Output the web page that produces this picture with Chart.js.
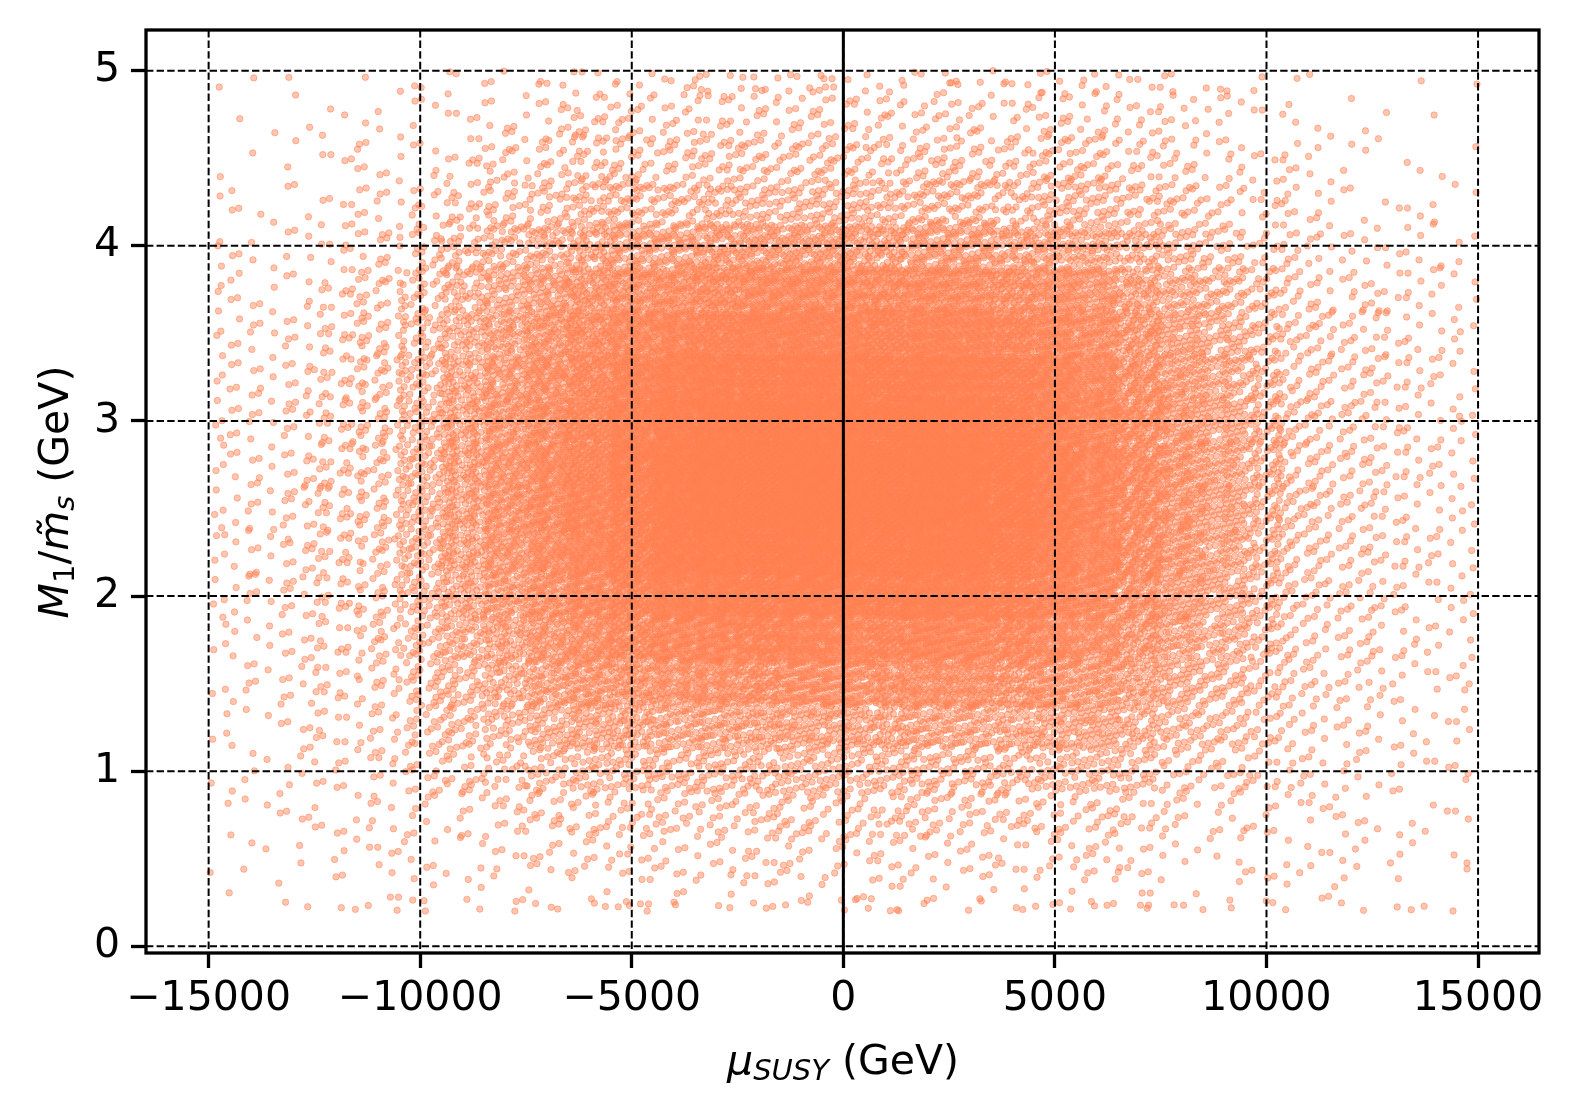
<!DOCTYPE html>
<html>
<head>
<meta charset="utf-8">
<script src="https://cdn.jsdelivr.net/npm/chart.js@4.4.1/dist/chart.umd.min.js"></script>
<style>
  html, body { margin: 0; padding: 0; background: #fff; }
  #grafico { display: block; }
</style>
</head>
<body>
<canvas id="grafico" width="1574" height="1113" style="width:1574px;height:1113px"></canvas>
<script>
// ------------- DATA
// the cloud is given as point counts per cell (1000 GeV wide, 0.25 tall)
const xEdges = [-15000, -14000, -13000, -12000, -11000, -10000, -9000, -8000, -7000, -6000,
  -5000, -4000, -3000, -2000, -1000, 0, 1000, 2000, 3000, 4000, 5000,
  6000, 7000, 8000, 9000, 10000, 11000, 12000, 13000, 14000, 15000];
const yEdges = [0.2, 0.25, 0.5, 0.75, 1.0, 1.25, 1.5, 1.75, 2.0, 2.25, 2.5,
  2.75, 3.0, 3.25, 3.5, 3.75, 4.0, 4.25, 4.5, 4.75, 5.0];

// which vertical band each column belongs to: o = |mu|>10000, m = 5000..10000, i = |mu|<5000
const colZone = ['o', 'o', 'o', 'o', 'o', 'm', 'm', 'm', 'm', 'm',
  'i', 'i', 'i', 'i', 'i', 'i', 'i', 'i', 'i', 'i',
  'm', 'm', 'm', 'm', 'm', 'o', 'o', 'o', 'o', 'o'];
// points per cell of each column in the row 2.5..2.75
const colPeak = [8, 10, 14, 20, 28, 65, 88, 115, 150, 185,
  240, 265, 285, 290, 280, 280, 285, 275, 260, 235,
  180, 145, 110, 80, 60, 26, 19, 14, 10, 8];

// share of that peak in every row, bottom row (0.2) to top row (5.0)
const outerRows = [0.05, 0.2, 0.3, 0.38, 0.5, 0.6, 0.7, 0.8, 0.9, 0.97,
  1.0, 0.97, 0.92, 0.85, 0.75, 0.62, 0.4, 0.28, 0.18, 0.1];
const midRows = [0.01, 0.05, 0.08, 0.14, 0.3, 0.45, 0.6, 0.75, 0.88, 0.97,
  1.0, 0.97, 0.9, 0.78, 0.65, 0.48, 0.28, 0.16, 0.1, 0.06];
const innerRows = [0.005, 0.025, 0.045, 0.09, 0.17, 0.3, 0.48, 0.66, 0.84, 0.95,
  1.0, 0.96, 0.87, 0.72, 0.54, 0.38, 0.17, 0.1, 0.06, 0.035];

const xTicks = [-15000, -10000, -5000, 0, 5000, 10000, 15000];
const yTicks = [0, 1, 2, 3, 4, 5];

// ------------- SPREAD THE COUNTS OVER EACH CELL (even R2 sequence, no randomness)
// each cell's points cover a window twice the cell size, so neighbours blend evenly
const SPREAD = 2;

function reflect(v, lo, hi) {
  if (v < lo) return lo + (lo - v);
  if (v > hi) return hi - (v - hi);
  return v;
}

function buildPoints() {
  const pts = [];
  const xLo = xEdges[0], xHi = xEdges[xEdges.length - 1];
  const yLo = yEdges[0], yHi = yEdges[yEdges.length - 1];
  let resto = 0;
  for (let c = 0; c < colPeak.length; c++) {
    const perfil = colZone[c] === 'i' ? innerRows : (colZone[c] === 'm' ? midRows : outerRows);
    for (let r = 0; r < perfil.length; r++) {
      resto += perfil[r] * colPeak[c];
      const n = Math.floor(resto);
      resto -= n;
      const xc = (xEdges[c] + xEdges[c + 1]) / 2, w = xEdges[c + 1] - xEdges[c];
      const yc = (yEdges[r] + yEdges[r + 1]) / 2, h = yEdges[r + 1] - yEdges[r];
      const s = ((c * 31 + r * 17) * 0.6180339887) % 1;
      for (let k = 0; k < n; k++) {
        const u = (s + 0.5 + k * 0.7548776662) % 1;
        const v = (s * 1.7 + 0.5 + k * 0.5698402910) % 1;
        pts.push({
          x: reflect(xc + (u - 0.5) * w * SPREAD, xLo, xHi),
          y: reflect(yc + (v - 0.5) * h * SPREAD, yLo, yHi)
        });
      }
    }
  }
  return pts;
}

function fmtTick(v) {
  return v < 0 ? '\u2212' + Math.abs(v) : String(v);
}

// text with sub-scripts, centred on cx, baseline at y
function textoCompuesto(ctx, partes, cx, y) {
  let total = 0;
  partes.forEach(p => { ctx.font = p.font; p.w = ctx.measureText(p.t).width; total += p.w; });
  let x = cx - total / 2;
  partes.forEach(p => {
    ctx.font = p.font;
    ctx.fillText(p.t, x, y + (p.dy || 0));
    x += p.w;
  });
}

const FAM = '"DejaVu Sans"';
const big = '41px ' + FAM, bigIt = 'italic 41px ' + FAM;
const sub = '29px ' + FAM, subIt = 'italic 29px ' + FAM;

// ------------- GRID, ZERO LINE, FRAME AND AXIS TITLES ON TOP OF THE POINTS
const capas = {
  id: 'capas',
  afterDatasetsDraw(chart) {
    const ctx = chart.ctx, a = chart.chartArea;
    const sx = chart.scales.x, sy = chart.scales.y;
    ctx.save();
    ctx.beginPath();
    ctx.rect(a.left, a.top, a.right - a.left, a.bottom - a.top);
    ctx.clip();
    ctx.strokeStyle = '#000';
    ctx.lineWidth = 2;
    ctx.setLineDash([7.4, 3.2]);
    xTicks.forEach(v => {
      const p = sx.getPixelForValue(v);
      ctx.beginPath(); ctx.moveTo(p, a.top); ctx.lineTo(p, a.bottom); ctx.stroke();
    });
    yTicks.forEach(v => {
      const p = sy.getPixelForValue(v);
      ctx.beginPath(); ctx.moveTo(a.left, p); ctx.lineTo(a.right, p); ctx.stroke();
    });
    ctx.setLineDash([]);
    ctx.lineWidth = 3;
    const p0 = sx.getPixelForValue(0);
    ctx.beginPath(); ctx.moveTo(p0, a.top); ctx.lineTo(p0, a.bottom); ctx.stroke();
    ctx.restore();

    ctx.save();
    ctx.strokeStyle = '#000';
    ctx.lineWidth = 3.3;
    ctx.strokeRect(a.left, a.top, a.right - a.left, a.bottom - a.top);
    ctx.restore();
  },
  afterDraw(chart) {
    const ctx = chart.ctx;
    ctx.save();
    ctx.fillStyle = '#000';
    ctx.textAlign = 'left';
    ctx.textBaseline = 'alphabetic';
    textoCompuesto(ctx, [
      { t: '\u03bc', font: bigIt },
      { t: 'SUSY', font: subIt, dy: 6 },
      { t: ' (GeV)', font: big }
    ], 843, 1074);

    ctx.translate(68, 492);
    ctx.rotate(-Math.PI / 2);
    textoCompuesto(ctx, [
      { t: 'M', font: bigIt },
      { t: '1', font: sub, dy: 6 },
      { t: '/', font: big },
      { t: 'm\u0303', font: bigIt },
      { t: 's', font: subIt, dy: 6 },
      { t: ' (GeV)', font: big }
    ], 0, 0);
    ctx.restore();
  }
};

const ctx = document.getElementById('grafico').getContext('2d');
const myChartScatter = new Chart(ctx, {
  type: 'scatter',
  data: {
    datasets: [{
      data: buildPoints(),
      pointRadius: 3.2,
      pointBorderWidth: 1,
      backgroundColor: 'rgba(255, 127, 80, 0.45)',
      borderColor: 'rgba(255, 127, 80, 0.5)'
    }]
  },
  options: {
    responsive: false,
    devicePixelRatio: 1,
    animation: false,
    events: [],
    normalized: true,
    layout: { padding: { top: 30, right: 35, bottom: 0, left: 0 } },
    plugins: {
      legend: { display: false },
      tooltip: { enabled: false }
    },
    scales: {
      x: {
        type: 'linear',
        min: -16480,
        max: 16440,
        afterBuildTicks: s => { s.ticks = xTicks.map(v => ({ value: v })); },
        afterFit: s => { s.height = 160; s.paddingLeft = 0; s.paddingRight = 0; },
        ticks: {
          callback: v => fmtTick(v),
          font: { family: 'DejaVu Sans', size: 41 },
          color: '#000',
          padding: 7,
          maxRotation: 0,
          autoSkip: false
        },
        grid: { drawOnChartArea: false, tickLength: 15, tickWidth: 3.3, tickColor: '#000' },
        border: { display: false }
      },
      y: {
        type: 'linear',
        min: -0.038,
        max: 5.232,
        afterBuildTicks: s => { s.ticks = yTicks.map(v => ({ value: v })); },
        afterFit: s => { s.width = 146; s.paddingTop = 0; s.paddingBottom = 0; },
        ticks: {
          callback: v => String(v),
          font: { family: 'DejaVu Sans', size: 41 },
          color: '#000',
          padding: 11,
          autoSkip: false
        },
        grid: { drawOnChartArea: false, tickLength: 15, tickWidth: 3.3, tickColor: '#000' },
        border: { display: false }
      }
    }
  },
  plugins: [capas]
});
</script>
</body>
</html>
